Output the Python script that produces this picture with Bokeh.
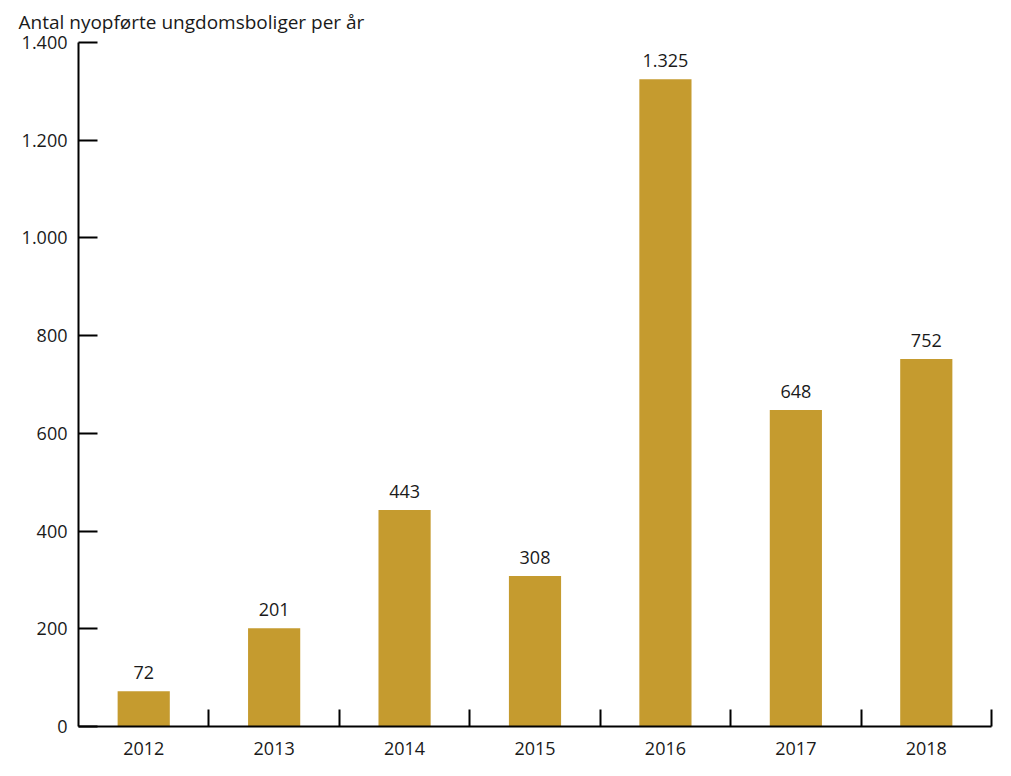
from bokeh.plotting import figure
from bokeh.models import FixedTicker, Range1d, ColumnDataSource, LabelSet
from bokeh.core.properties import value
from bokeh.embed import file_html
from bokeh.resources import INLINE

years = ["2012", "2013", "2014", "2015", "2016", "2017", "2018"]
values = [72, 201, 443, 308, 1325, 648, 752]
value_labels = ["72", "201", "443", "308", "1.325", "648", "752"]
y_ticks = [0, 200, 400, 600, 800, 1000, 1200, 1400]
y_tick_labels = ["0", "200", "400", "600", "800", "1.000", "1.200", "1.400"]
title_text = "Antal nyopførte ungdomsboliger per år"

FONT = "Open Sans"
TEXT = "#1a1a1a"
BAR = "#C59B2F"

xc = [i + 0.5 for i in range(len(years))]
src = ColumnDataSource(dict(x=xc, top=values, lab=value_labels))

p = figure(width=995, height=760,
           x_range=Range1d(0, len(years)), y_range=Range1d(0, 1400),
           output_backend="svg", toolbar_location=None,
           min_border_left=78, min_border_right=4, min_border_top=42, min_border_bottom=34)

p.vbar(x="x", top="top", width=0.4, bottom=0, source=src, color=BAR, line_color=None)

labels = LabelSet(x="x", y="top", text="lab", source=src, text_align="center",
                  text_baseline="bottom", y_offset=12, text_font=value(FONT),
                  text_font_size="18px", text_color=TEXT)
p.add_layout(labels)

p.title.text = title_text
p.title.align = "left"
p.title.vertical_align = "top"
p.title.offset = -60
p.title.text_font = FONT
p.title.text_font_size = "19px"
p.title.text_font_style = "normal"
p.title.text_color = TEXT
p.title.standoff = 12

p.xgrid.visible = False
p.ygrid.visible = False
p.outline_line_color = None
p.background_fill_color = "white"
p.border_fill_color = "white"

xa = p.xaxis[0]
xa.ticker = FixedTicker(ticks=xc, minor_ticks=[i + 1 for i in range(len(years))])
xa.major_label_overrides = {c: y for c, y in zip(xc, years)}
xa.major_tick_line_color = None
xa.minor_tick_in = 17
xa.minor_tick_out = 0
xa.minor_tick_line_width = 2
xa.minor_tick_line_color = "black"
xa.axis_line_width = 2
xa.axis_line_color = "black"
xa.major_label_standoff = 9
xa.major_label_text_font = FONT
xa.major_label_text_font_size = "18px"
xa.major_label_text_color = TEXT

ya = p.yaxis[0]
ya.ticker = FixedTicker(ticks=y_ticks, minor_ticks=[])
ya.major_label_overrides = {t: l for t, l in zip(y_ticks, y_tick_labels)}
ya.major_tick_in = 19
ya.major_tick_out = 0
ya.major_tick_line_width = 2
ya.major_tick_line_color = "black"
ya.axis_line_width = 2
ya.axis_line_color = "black"
ya.major_label_standoff = 11
ya.major_label_text_font = FONT
ya.major_label_text_font_size = "18px"
ya.major_label_text_color = TEXT

open("out.html", "w").write(file_html(p, INLINE))
